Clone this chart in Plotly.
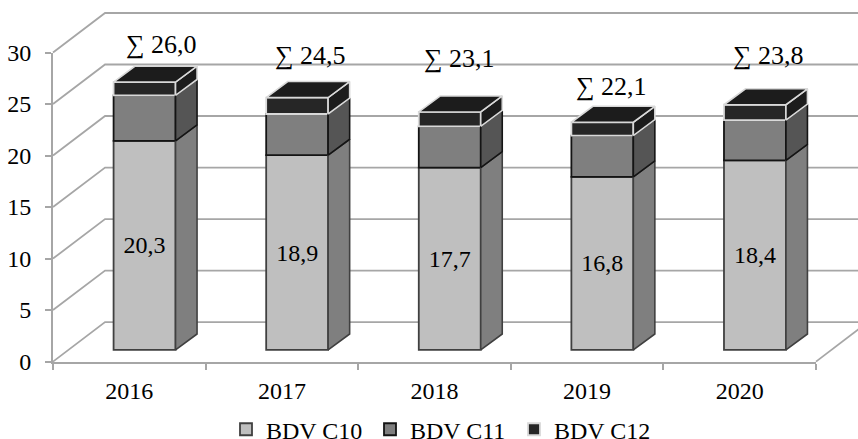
import plotly.graph_objects as go

years = ["2016", "2017", "2018", "2019", "2020"]
series_names = ["BDV C10", "BDV C11", "BDV C12"]
c10 = [20.3, 18.9, 17.7, 16.8, 18.4]
c11 = [4.4, 4.0, 4.0, 4.0, 3.9]
c12 = [1.3, 1.6, 1.4, 1.3, 1.5]
totals = [26.0, 24.5, 23.1, 22.1, 23.8]
sum_label_lift = [3.6, 4.1, 5.15, 3.5, 4.75]
sum_label_nudge = [0.11, 0.09, 0.065, 0.06, 0.09]
y_ticks = [0, 5, 10, 15, 20, 25, 30]

W, H = 858, 439
PX_X0, PX_X1 = 53.0, 816.0      # category axis, pixels
PX_Y0, PX_Y30 = 361.6, 52.5     # value axis, pixels
PX_PER_CAT = (PX_X1 - PX_X0) / 5
PX_PER_UNIT = (PX_Y0 - PX_Y30) / 30

GREY = "#a6a6a6"
FONT = "Liberation Serif"
FS = 24
WALL_DX, WALL_DY = 0.341, 3.835
BAR_DX, BAR_DY = 0.141, 1.55
BAR_W, BAR_SHIFT, FLOOR = 0.406, 0.1, 1.13

front = ["#bfbfbf", "#7f7f7f", "#262626"]
side = ["#7f7f7f", "#555555", "#1c1c1c"]
edge = ["#404040", "#141414", "#d9d9d9"]
series = [c10, c11, c12]

fig = go.Figure()


def poly(xs, ys, fill, line, lw=1.6):
    fig.add_trace(go.Scatter(x=xs, y=ys, mode="lines", fill="toself", fillcolor=fill,
                             line=dict(color=line, width=lw), showlegend=False,
                             hoverinfo="skip", xaxis="x2", yaxis="y2"))


# back wall + floor, on a full-page pair of axes with the same scale
xL, xR = -0.5, 4.5
for v in y_ticks:
    fig.add_trace(go.Scatter(x=[xL, xL + WALL_DX, xR + WALL_DX], y=[v, v + WALL_DY, v + WALL_DY],
                             mode="lines", line=dict(color=GREY, width=1.8), showlegend=False,
                             hoverinfo="skip", xaxis="x", yaxis="y"))
fig.add_trace(go.Scatter(x=[xR, xR + WALL_DX], y=[0, WALL_DY], mode="lines",
                         line=dict(color=GREY, width=1.8), showlegend=False,
                         hoverinfo="skip", xaxis="x", yaxis="y"))

# front faces
xpos = list(range(len(years)))
base = [FLOOR] * len(years)
bases = []
for k, vals in enumerate(series):
    bases.append(list(base))
    fig.add_trace(go.Bar(
        x=[i + BAR_SHIFT for i in xpos], y=vals, base=base, width=BAR_W, name=series_names[k],
        marker=dict(color=front[k], line=dict(color=edge[k], width=1.8)),
        text=[f"{v:.1f}".replace(".", ",") for v in vals] if k == 0 else None,
        textposition="inside" if k == 0 else "none", insidetextanchor="middle", textangle=0,
        constraintext="none", insidetextfont=dict(family=FONT, size=FS, color="#000000"),
        hoverinfo="skip", xaxis="x2", yaxis="y2"))
    base = [b + v for b, v in zip(base, vals)]

# side faces and tops
for k, vals in enumerate(series):
    for i in xpos:
        xr = i + BAR_SHIFT + BAR_W / 2
        y0, y1 = bases[k][i], bases[k][i] + vals[i]
        poly([xr, xr + BAR_DX, xr + BAR_DX, xr, xr],
             [y0, y0 + BAR_DY, y1 + BAR_DY, y1, y0], side[k], edge[k])
for i in xpos:
    xr = i + BAR_SHIFT + BAR_W / 2
    xl = xr - BAR_W
    yt = base[i]
    poly([xl, xl + BAR_DX, xr + BAR_DX, xr, xl], [yt, yt + BAR_DY, yt + BAR_DY, yt, yt],
         "#1c1c1c", edge[2])

# sum labels (on the full-page axes, which share the scale and can reach above 30)
for i in xpos:
    fig.add_annotation(x=i + BAR_SHIFT + sum_label_nudge[i], y=FLOOR + totals[i] + sum_label_lift[i],
                       xref="x", yref="y", showarrow=False,
                       text="∑ " + f"{totals[i]:.1f}".replace(".", ","),
                       font=dict(family=FONT, size=26, color="#000000"))

fig.update_layout(
    width=W, height=H, margin=dict(l=0, r=0, t=0, b=0, autoexpand=False),
    paper_bgcolor="white", plot_bgcolor="rgba(0,0,0,0)", barmode="overlay",
    font=dict(family=FONT, size=FS, color="#000000"),
    xaxis=dict(visible=False, domain=[0, 1],
               range=[xL - PX_X0 / PX_PER_CAT, xL + (W - PX_X0) / PX_PER_CAT]),
    yaxis=dict(visible=False, domain=[0, 1],
               range=[-(H - PX_Y0) / PX_PER_UNIT, PX_Y0 / PX_PER_UNIT]),
    xaxis2=dict(domain=[PX_X0 / W, PX_X1 / W], anchor="y2", range=[xL, xR], tickmode="array",
                tickvals=xpos, ticktext=years, ticks="", showgrid=False, zeroline=False,
                showline=True, linecolor=GREY, linewidth=1.8, ticklabelstandoff=7,
                minor=dict(tickmode="array", tickvals=[-0.5, 0.5, 1.5, 2.5, 3.5, 4.5],
                           ticks="outside", ticklen=6, tickwidth=1.5, tickcolor=GREY,
                           showgrid=False)),
    yaxis2=dict(domain=[(H - PX_Y0) / H, (H - PX_Y30) / H], anchor="x2", range=[0, 30],
                tickmode="array", tickvals=y_ticks, ticks="outside", ticklen=6, tickwidth=1.5,
                tickcolor=GREY, showgrid=False, zeroline=False, showline=True, linecolor=GREY,
                linewidth=1.8, ticklabelstandoff=9),
    legend=dict(orientation="h", x=226 / W, xanchor="left", y=-0.03, yanchor="bottom",
                traceorder="normal", font=dict(family=FONT, size=FS), itemwidth=30,
                entrywidth=99, entrywidthmode="pixels", bgcolor="rgba(0,0,0,0)"),
)

fig.write_html("out.html", config={"displayModeBar": False},
               post_script="document.body.style.margin='0';")
